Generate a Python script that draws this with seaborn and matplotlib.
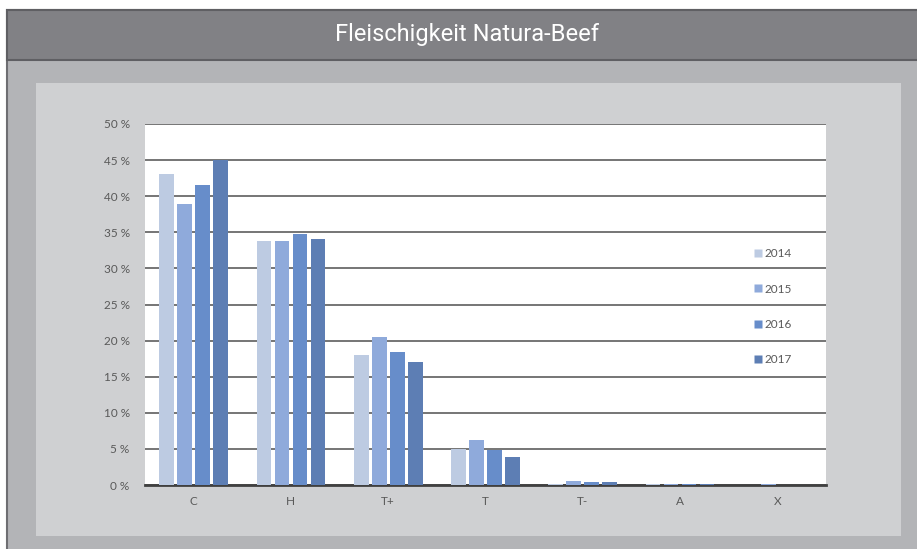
import pandas as pd
import matplotlib.pyplot as plt
import seaborn as sns
from matplotlib.patches import Rectangle
from matplotlib.lines import Line2D

# Data (percent)
klassen = ["C", "H", "T+", "T", "T-", "A", "X"]
jahre = ["2014", "2015", "2016", "2017"]
werte_2014 = [43.1, 33.8, 18.0, 5.0, 0.2, 0.2, 0.0]
werte_2015 = [38.9, 33.8, 20.5, 6.3, 0.6, 0.2, 0.2]
werte_2016 = [41.6, 34.8, 18.4, 4.9, 0.4, 0.2, 0.0]
werte_2017 = [45.0, 34.1, 17.0, 3.9, 0.4, 0.2, 0.0]

farben = ["#bdcbe2", "#8faadb", "#678dca", "#5d7eb4"]

rows = []
for jahr, werte in zip(jahre, [werte_2014, werte_2015, werte_2016, werte_2017]):
    for k, v in zip(klassen, werte):
        rows.append({"Klasse": k, "Jahr": jahr, "Anteil": v})
data = pd.DataFrame(rows)

sns.set_style("white")
plt.rcParams["font.family"] = ["Lato", "DejaVu Sans"]

W, H = 917, 549
fig = plt.figure(figsize=(W / 100, H / 100), dpi=100)
fig.patch.set_facecolor("white")

# Backgrounds (in pixel units converted to figure fraction)
def px_rect(x0, y0, x1, y1, **kw):
    return Rectangle((x0 / W, 1 - y1 / H), (x1 - x0) / W, (y1 - y0) / H,
                     transform=fig.transFigure, zorder=-5, **kw)

fig.patches.append(px_rect(7, 10, W + 2, H + 2, facecolor="#b3b4b7",
                           edgecolor="#6e6e72", linewidth=1.5))
fig.patches.append(px_rect(7, 10, W + 2, 60, facecolor="#818185",
                           edgecolor="#5f5f63", linewidth=1.5))
fig.patches.append(px_rect(36, 83, 901, 536, facecolor="#cfd0d2", edgecolor="none"))

fig.text(467 / W, 1 - 35 / H, "Fleischigkeit Natura-Beef", color="white",
         fontsize=17, ha="center", va="center", family=["Roboto", "DejaVu Sans"])

ax = fig.add_axes([145 / W, (H - 485) / H, (826 - 145) / W, (485 - 124) / H])
ax.set_facecolor("white")

sns.barplot(data=data, x="Klasse", y="Anteil", hue="Jahr", palette=farben,
            width=0.74, gap=0.18, ax=ax, saturation=1, edgecolor="none")
# bars on top of the base line so the tiny values stay visible
for p in ax.patches:
    p.set_zorder(3)

ax.set_ylim(0, 50)
ax.set_yticks(range(0, 51, 5))
ax.set_yticklabels([f"{t} %" for t in range(0, 51, 5)])
ax.set_axisbelow(True)
ax.yaxis.grid(True, color="#6a6a6a", linewidth=1.3)
ax.tick_params(axis="both", length=0, labelsize=8.5, labelcolor="#595959")
ax.tick_params(axis="y", pad=11)
ax.tick_params(axis="x", pad=8)
ax.set_xlabel("")
ax.set_ylabel("")
for s in ["top", "right", "left"]:
    ax.spines[s].set_visible(False)
ax.spines["bottom"].set_color("#404040")
ax.spines["bottom"].set_linewidth(2.0)

handles = [Line2D([], [], marker="s", linestyle="none", markersize=6,
                  markerfacecolor=c, markeredgecolor="none") for c in farben]
leg = ax.legend(handles, jahre, loc="center left", bbox_to_anchor=(0.885, 0.494),
                frameon=False, fontsize=8.5, labelspacing=2.05, handlelength=0.8,
                handletextpad=0.1, borderpad=0)
for t in leg.get_texts():
    t.set_color("#595959")

fig.savefig("out.png", dpi=100)
